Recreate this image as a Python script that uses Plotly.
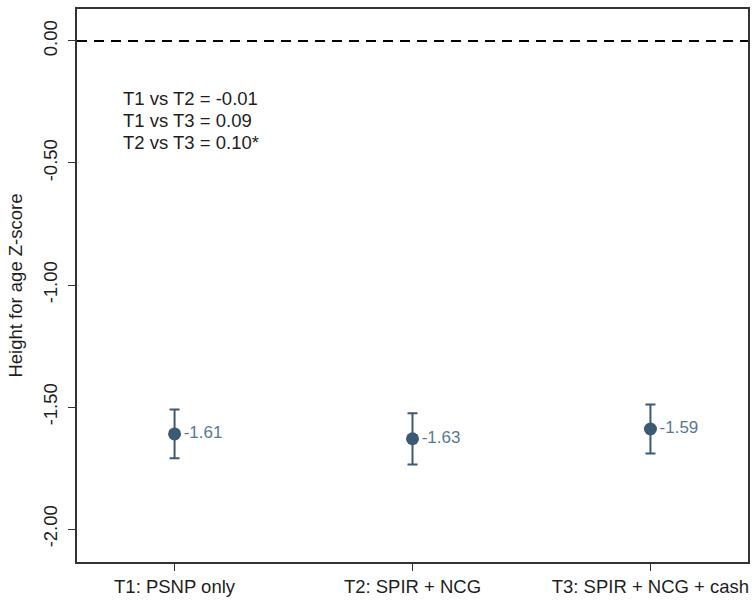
import plotly.graph_objects as go

# Treatment arms and mean height-for-age Z-scores with 95% CI half-widths
arms = ["T1: PSNP only", "T2: SPIR + NCG", "T3: SPIR + NCG + cash"]
haz_mean = [-1.61, -1.63, -1.59]
ci_half = [0.10, 0.105, 0.10]
value_labels = ["-1.61", "-1.63", "-1.59"]

# Pairwise differences, one line each
comparisons = ["T1 vs T2 = -0.01", "T1 vs T3 = 0.09", "T2 vs T3 = 0.10*"]
comparison_y = [-0.234, -0.324, -0.414]

y_ticks = [0.0, -0.5, -1.0, -1.5, -2.0]
y_ticktext = ["0.00", "-0.50", "-1.00", "-1.50", "-2.00"]

FONT = "Liberation Sans, Arial, sans-serif"
MARK = "#3d5a74"
LABEL = "#5a7891"
TEXT = "#1e1e1e"

x_pos = list(range(1, len(arms) + 1))

fig = go.Figure()
fig.add_trace(go.Scatter(
    x=x_pos,
    y=haz_mean,
    mode="markers+text",
    text=value_labels,
    textposition="middle right",
    textfont=dict(family=FONT, size=17, color=LABEL),
    marker=dict(size=13, color=MARK),
    error_y=dict(type="data", array=ci_half, color=MARK, thickness=2, width=5),
    showlegend=False,
))

# Reference line at zero
fig.add_shape(type="line", xref="paper", yref="y", x0=0, x1=1, y0=0, y1=0,
              line=dict(color="black", width=2, dash="10px,7px"))

for line_text, ly in zip(comparisons, comparison_y):
    fig.add_annotation(
        xref="x", yref="y", x=0.775, y=ly,
        xanchor="left", yanchor="middle", align="left",
        text=line_text, showarrow=False,
        font=dict(family=FONT, size=18.5, color=TEXT),
    )

fig.update_layout(
    width=752, height=601,
    margin=dict(l=77, r=2, t=9, b=39),
    paper_bgcolor="white", plot_bgcolor="white",
    font=dict(family=FONT, size=18, color=TEXT),
)
fig.update_xaxes(
    range=[0.59, 3.41],
    tickvals=x_pos, ticktext=arms,
    showgrid=False, zeroline=False,
    showline=True, linecolor="#333333", linewidth=2, mirror=True,
    ticks="outside", ticklen=7, tickcolor="#333333", tickwidth=1,
    tickfont=dict(family=FONT, size=18.5, color=TEXT),
)
fig.update_yaxes(
    range=[-2.135, 0.131],
    tickvals=y_ticks, ticktext=y_ticktext, tickangle=-90,
    ticklabelstandoff=4,
    showgrid=False, zeroline=False,
    showline=True, linecolor="#333333", linewidth=2, mirror=True,
    ticks="outside", ticklen=7, tickcolor="#333333", tickwidth=1,
    tickfont=dict(family=FONT, size=18.5, color=TEXT),
    title=dict(text="Height for age Z-score", standoff=12,
               font=dict(family=FONT, size=18.5, color=TEXT)),
)

fig.write_html("out.html")
